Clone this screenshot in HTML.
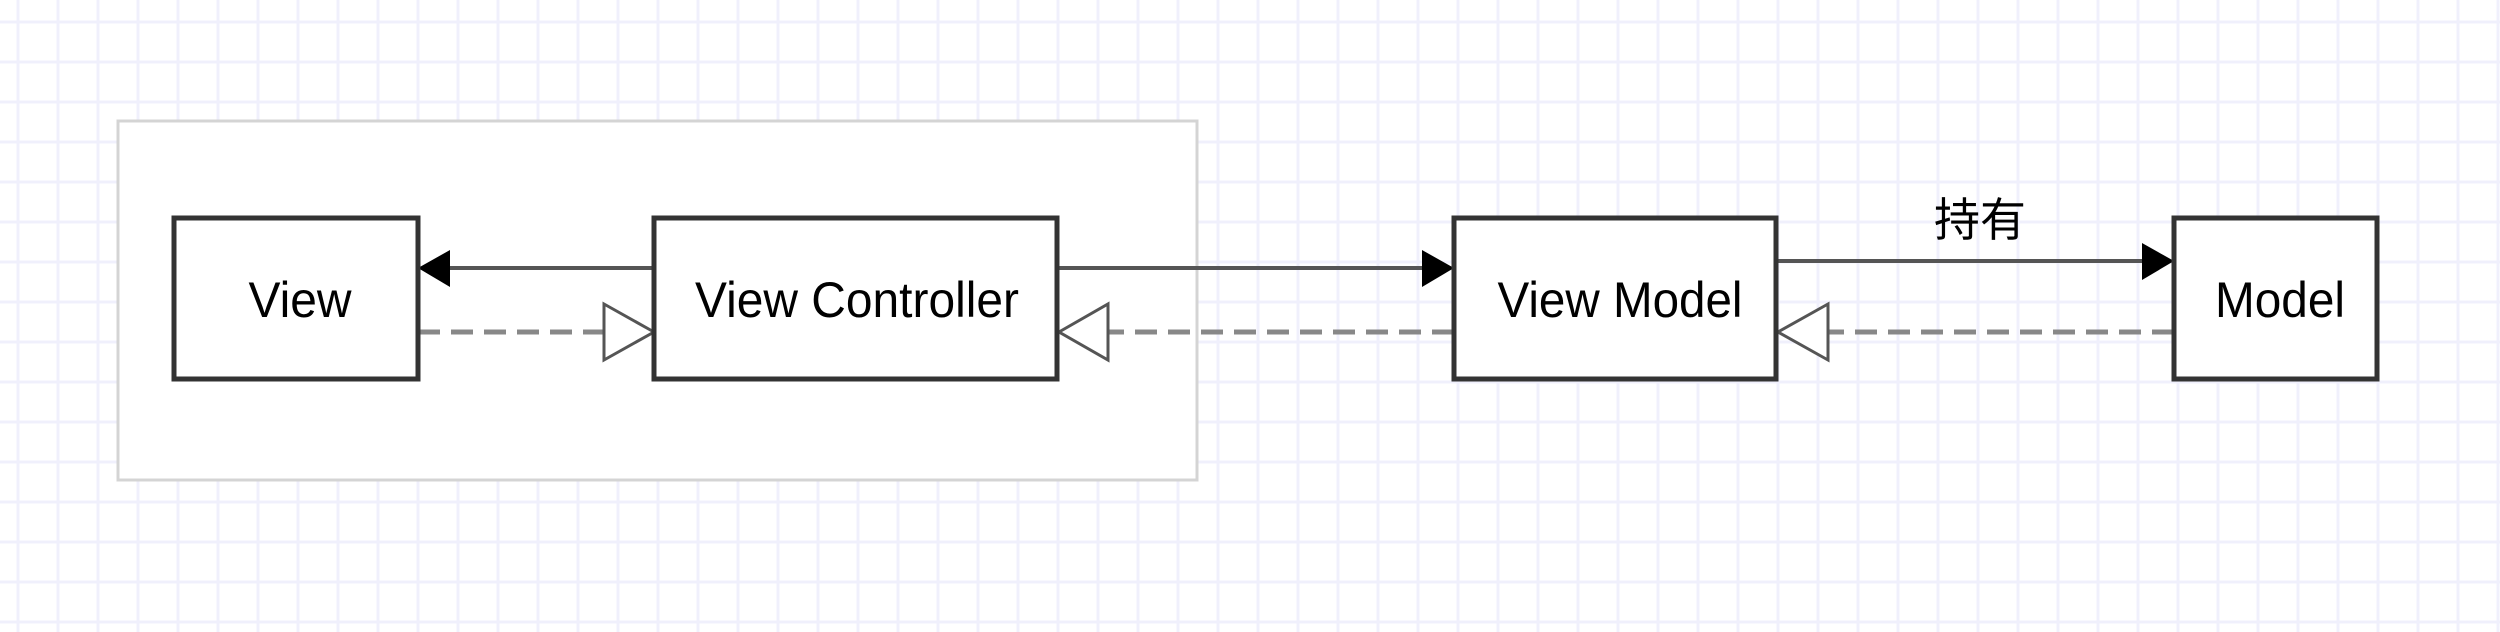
<!DOCTYPE html>
<html><head><meta charset="utf-8"><style>
html,body{margin:0;padding:0;background:#fff;}
svg{display:block;}
text{font-family:"Liberation Sans","Noto Sans CJK SC",sans-serif;font-size:50px;fill:#000;}
</style></head><body>
<svg width="2500" height="632" viewBox="0 0 2500 632" xmlns="http://www.w3.org/2000/svg">
<defs>
<pattern id="g" x="16" y="20" width="40" height="40" patternUnits="userSpaceOnUse">
<path d="M2 0V40M0 2H40" stroke="#f0f0fc" stroke-width="3" fill="none"/>
</pattern>
</defs>
<rect width="2500" height="632" fill="url(#g)"/>
<rect x="118" y="121" width="1079" height="359" fill="#fff" stroke="#d4d4d4" stroke-width="3"/>

<g stroke="#555" stroke-width="4" fill="none">
<line x1="654" y1="268" x2="448" y2="268"/>
<line x1="1057" y1="268" x2="1422" y2="268"/>
<line x1="1776" y1="261" x2="2142" y2="261"/>
</g>
<g stroke="#888" stroke-width="5" stroke-dasharray="22,11" fill="none">
<line x1="418" y1="332" x2="604" y2="332"/>
<line x1="1454" y1="332" x2="1108" y2="332"/>
<line x1="2174" y1="332" x2="1828" y2="332"/>
</g>
<polygon points="418,268 450,250 450,287" fill="#000"/>
<polygon points="1454,268 1422,250 1422,287" fill="#000"/>
<polygon points="2174,261 2142,243 2142,280" fill="#000"/>
<g fill="#fff" stroke="#555" stroke-width="3">
<polygon points="654,332 604,304 604,360"/>
<polygon points="1059,332 1108,304 1108,360"/>
<polygon points="1778,332 1828,304 1828,360"/>
</g>

<g fill="#fff" stroke="#333" stroke-width="5">
<rect x="174" y="218" width="244" height="161"/>
<rect x="654" y="218" width="403" height="161"/>
<rect x="1454" y="218" width="322" height="161"/>
<rect x="2174" y="218" width="203" height="161"/>
</g>
<g text-anchor="middle">
<text x="300" y="317" textLength="103" lengthAdjust="spacingAndGlyphs">View</text>
<text x="857" y="317" textLength="324" lengthAdjust="spacingAndGlyphs">View Controller</text>
<text x="1620" y="317" textLength="245" lengthAdjust="spacingAndGlyphs">View Model</text>
<text x="2280" y="317" textLength="130" lengthAdjust="spacingAndGlyphs">Model</text>
<text x="1980" y="236" style="font-size:46px">持有</text>
</g>
</svg>
</body></html>
